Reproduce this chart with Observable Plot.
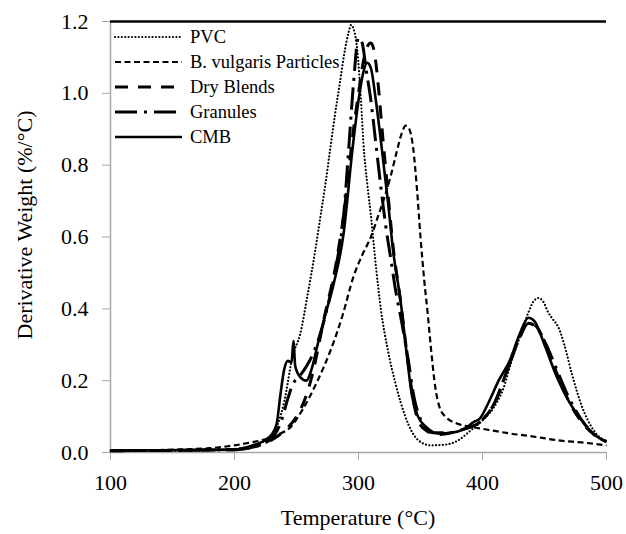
<!DOCTYPE html>
<html><head><meta charset="utf-8">
<script src="https://cdn.jsdelivr.net/npm/d3@7"></script>
<script src="https://cdn.jsdelivr.net/npm/@observablehq/plot@0.6"></script>
<style>
body{margin:0;background:#fff;}
#wrap{position:relative;width:626px;height:534px;font-family:"Liberation Serif",serif;}
#wrap svg, #wrap svg text{font-family:"Liberation Serif",serif !important;}
#overlay{position:absolute;left:0;top:0;pointer-events:none;}
</style></head><body><div id="wrap"></div>
<script>
// ---- data ----
const seriesNames = ["PVC", "B. vulgaris Particles", "Dry Blends", "Granules", "CMB"];
const xTicks = [100, 200, 300, 400, 500];
const yTicks = [0, 0.2, 0.4, 0.6, 0.8, 1.0, 1.2];
const xTitle = "Temperature (°C)";
const yTitle = "Derivative Weight (%/°C)";

const pvcTemp  = [100,150,200,215,225,235,240,247,253,259,265,269,273,277,281,285,289,292,294,296,299,302,304,307,310,314,318,324,330,334,340,348,358,370,380,390,400,409,417,423,430,437,441,445,449,453,457,461,466,472,480,490,500];
const pvcDeriv = [.005,.005,.01,.02,.035,.08,.14,.27,.33,.44,.56,.65,.74,.84,.94,1.03,1.12,1.17,1.19,1.18,1.12,.98,.86,.75,.66,.52,.40,.28,.19,.14,.08,.035,.02,.022,.033,.06,.09,.125,.18,.25,.32,.39,.42,.43,.42,.39,.37,.35,.30,.22,.13,.06,.03];

const bvTemp  = [100,150,180,200,213,223,235,245,255,267,277,287,296,303,310,316,320,326,331,335,338,341,344,347,350,353,356,359,362,365,370,380,390,398,410,422,440,463,480,500];
const bvDeriv = [.005,.008,.012,.02,.028,.035,.05,.07,.12,.2,.28,.38,.49,.55,.60,.66,.70,.77,.84,.89,.91,.90,.85,.74,.60,.48,.38,.27,.18,.13,.10,.08,.072,.067,.06,.053,.045,.033,.028,.02];

const dryTemp  = [100,200,215,230,240,250,258,263,268,272,276,280,284,288,292,296,300,304,307,310,313,316,319,323,328,334,340,344,348,355,364,375,385,398,410,420,430,436,442,450,460,470,480,490,500];
const dryDeriv = [.005,.008,.015,.035,.06,.10,.16,.22,.30,.37,.43,.49,.57,.66,.78,.90,1.0,1.09,1.13,1.14,1.11,1.02,.90,.75,.57,.42,.25,.15,.09,.06,.05,.055,.065,.085,.14,.23,.32,.36,.355,.31,.22,.14,.085,.05,.03];

const granTemp  = [100,200,215,230,238,243,247,252,258,264,270,276,282,288,292,296,300,303,306,310,314,318,322,326,330,335,340,345,352,360,372,385,398,410,420,430,437,443,450,460,470,480,490,500];
const granDeriv = [.005,.008,.015,.04,.09,.15,.19,.21,.24,.28,.34,.42,.52,.66,.84,1.03,1.155,1.14,1.07,.98,.86,.74,.63,.54,.45,.36,.26,.15,.08,.055,.055,.065,.085,.14,.23,.32,.36,.35,.31,.23,.15,.09,.05,.03];

const cmbTemp  = [100,200,215,225,230,234,237,240,243,246,247.5,249,253,258,262,267,273,280,288,295,300,304,307,310,314,319,324,328,334,339,343,348,355,364,375,385,393,398,405,413,422,430,437,442,450,460,470,480,490,500];
const cmbDeriv = [.005,.008,.02,.035,.05,.08,.16,.23,.255,.25,.31,.24,.21,.20,.23,.30,.38,.47,.61,.84,.98,1.06,1.085,1.07,.98,.84,.69,.56,.42,.27,.16,.10,.07,.053,.055,.065,.085,.095,.14,.20,.256,.33,.375,.365,.30,.21,.14,.09,.05,.03];

// ---- styles ----
const styles = [
  {dash: "0.01,3.4", width: 2.2, cap: "round"},
  {dash: "6,3.5", width: 2.2, cap: "butt"},
  {dash: "13,10", width: 3, cap: "butt"},
  {dash: "22,7,3,7", width: 3, cap: "butt"},
  {dash: null, width: 2.6, cap: "butt"}
];
const temps = [pvcTemp, bvTemp, dryTemp, granTemp, cmbTemp];
const derivs = [pvcDeriv, bvDeriv, dryDeriv, granDeriv, cmbDeriv];

const rows = seriesNames.map((name, i) => temps[i].map((t, j) => ({series: name, t, v: derivs[i][j]})));

const font = '"Liberation Serif",serif';
const W = 626, H = 534, mL = 110, mR = 20, mT = 21, mB = 82;

const lineMarks = rows.map((data, i) => Plot.line(data, {
  x: "t", y: "v", curve: "monotone-x", stroke: "black",
  strokeWidth: styles[i].width, strokeDasharray: styles[i].dash || undefined,
  strokeLinecap: styles[i].cap
}));

const chart = Plot.plot({
  width: W, height: H,
  marginLeft: mL, marginRight: mR, marginTop: mT, marginBottom: mB,
  style: {fontFamily: font, fontSize: "22px", color: "black", background: "white"},
  x: {domain: [100, 500]},
  y: {domain: [0, 1.2]},
  marks: [
    Plot.ruleY([0], {stroke: "#a6a6a6", strokeWidth: 1.5}),
    Plot.ruleX([100], {stroke: "#a6a6a6", strokeWidth: 1.5}),
    Plot.ruleY([1.2], {stroke: "black", strokeWidth: 2.5}),
    Plot.axisX({ticks: xTicks, tickSize: 8, tickPadding: 14, stroke: "#a6a6a6", fill: "black", label: null, fontSize: 22}),
    Plot.axisY({ticks: yTicks, tickFormat: d => d.toFixed(1), tickSize: 8, tickPadding: 14, stroke: "#a6a6a6", fill: "black", label: null, fontSize: 22}),
    ...lineMarks
  ]
});
const wrap = document.getElementById("wrap");
wrap.appendChild(chart);

// ---- overlay: legend + axis titles ----
const ov = d3.select(wrap).append("svg").attr("id", "overlay").attr("width", W).attr("height", H)
  .style("font-family", font);
const legX0 = 115, legX1 = 182, legTextX = 190, legY0 = 37, legDy = 25;
seriesNames.forEach((name, i) => {
  const y = legY0 + i * legDy;
  ov.append("line").attr("x1", legX0).attr("x2", legX1).attr("y1", y).attr("y2", y)
    .attr("stroke", "black").attr("stroke-width", styles[i].width)
    .attr("stroke-dasharray", styles[i].dash).attr("stroke-linecap", styles[i].cap);
  ov.append("text").attr("x", legTextX).attr("y", y).attr("dy", "0.35em")
    .attr("font-size", 18.5).text(name);
});
ov.append("text").attr("x", (mL + W - mR) / 2).attr("y", 517).attr("dy", "0.35em")
  .attr("text-anchor", "middle").attr("font-size", 22).text(xTitle);
ov.append("text").attr("transform", `translate(24,${225}) rotate(-90)`).attr("dy", "0.35em")
  .attr("text-anchor", "middle").attr("font-size", 22).text(yTitle);
</script></body></html>
